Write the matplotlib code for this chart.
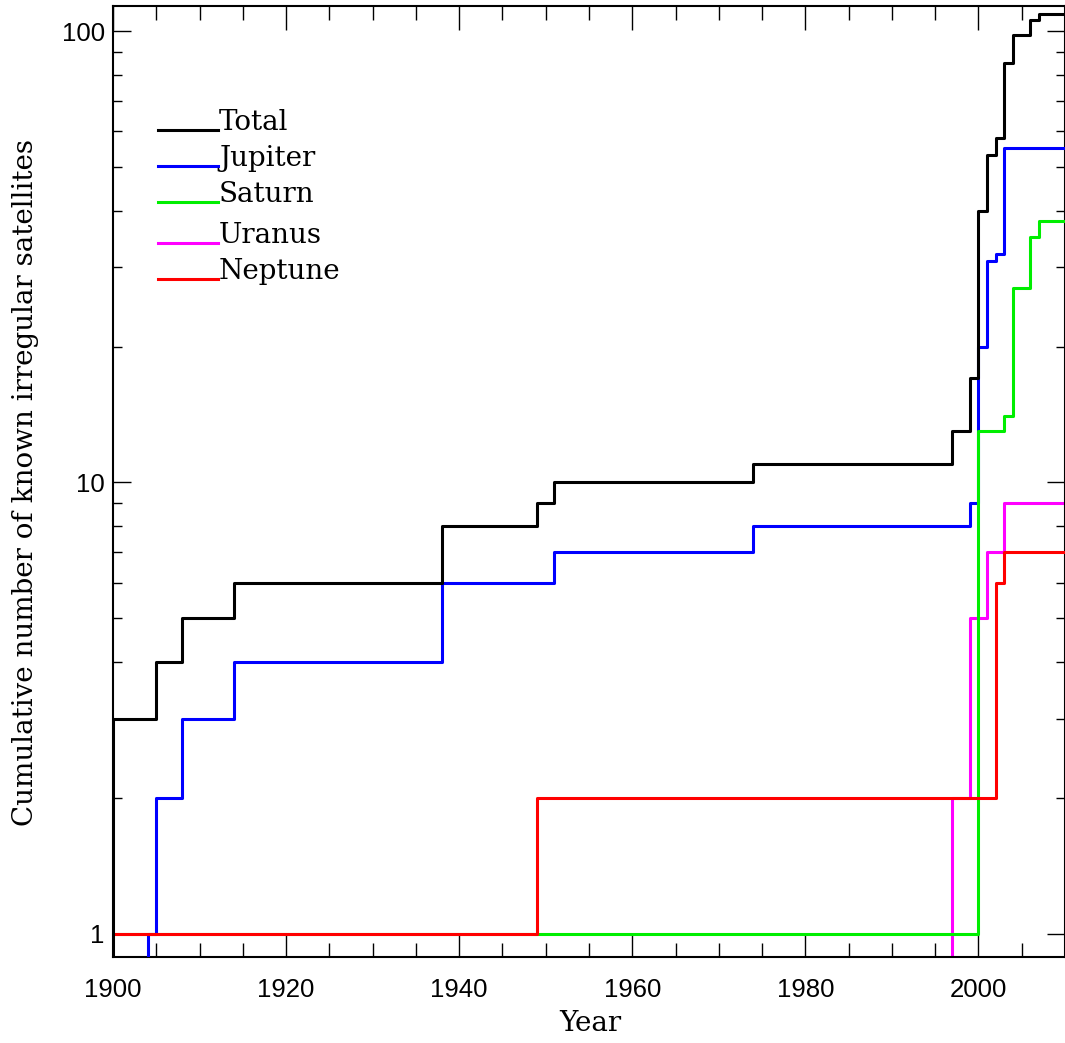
import numpy as np
import matplotlib.pyplot as plt
from matplotlib.ticker import FixedLocator, MultipleLocator, NullFormatter

# discovery years and cumulative counts of irregular satellites
total_years = [1900, 1900, 1905, 1908, 1914, 1938, 1949, 1951, 1974, 1997, 1999,
               2000, 2001, 2002, 2003, 2004, 2006, 2007, 2010]
total_counts = [0, 3, 4, 5, 6, 8, 9, 10, 11, 13, 17, 40, 53, 58, 85, 98, 106, 109, 109]

jupiter_years = [1900, 1904, 1905, 1908, 1914, 1938, 1951, 1974, 1999, 2000, 2001,
                 2002, 2003, 2010]
jupiter_counts = [0, 1, 2, 3, 4, 6, 7, 8, 9, 20, 31, 32, 55, 55]

saturn_years = [1900, 2000, 2003, 2004, 2006, 2007, 2010]
saturn_counts = [1, 13, 14, 27, 35, 38, 38]

uranus_years = [1900, 1997, 1999, 2001, 2003, 2010]
uranus_counts = [0, 2, 5, 7, 9, 9]

neptune_years = [1900, 1949, 2002, 2003, 2010]
neptune_counts = [1, 2, 6, 7, 7]

series = [
    ("Uranus", uranus_years, uranus_counts, "#ff00ff", 2),
    ("Jupiter", jupiter_years, jupiter_counts, "#0000ff", 3),
    ("Saturn", saturn_years, saturn_counts, "#00ee00", 4),
    ("Neptune", neptune_years, neptune_counts, "#ff0000", 5),
    ("Total", total_years, total_counts, "black", 6),
]
legend_order = ["Total", "Jupiter", "Saturn", "Uranus", "Neptune"]

label_font = "DejaVu Serif"
tick_font = "Liberation Sans"

fig = plt.figure(figsize=(10.65, 10.43), dpi=100)
W, H = 1065, 1043
ax = fig.add_axes([113 / W, 1 - 957 / H, 952 / W, 951 / H])
ax.set_yscale("log", nonpositive="clip")

colors = {}
for name, yrs, cnt, col, z in series:
    ax.plot(yrs, cnt, drawstyle="steps-post", color=col, lw=2.2, zorder=z)
    colors[name] = col

ax.set_xlim(1900, 2010)
ax.set_ylim(0.889, 113.6)

ax.xaxis.set_major_locator(MultipleLocator(20))
ax.xaxis.set_minor_locator(MultipleLocator(5))
ax.yaxis.set_major_locator(FixedLocator([1, 10, 100]))
ax.yaxis.set_minor_locator(FixedLocator([m * d for d in (1, 10) for m in range(2, 10)]))
ax.yaxis.set_major_formatter(plt.FuncFormatter(lambda v, p: f"{v:g}"))
ax.yaxis.set_minor_formatter(NullFormatter())

ax.tick_params(axis="x", which="major", direction="in", length=17, width=1,
               top=True, pad=15)
ax.tick_params(axis="x", which="minor", direction="in", length=10, width=1, top=True)
ax.tick_params(axis="y", which="major", direction="in", length=13, width=1,
               right=True, pad=6)
ax.tick_params(axis="y", which="minor", direction="in", length=6.5, width=1, right=True)
for lab in ax.get_xticklabels() + ax.get_yticklabels():
    lab.set_fontfamily(tick_font)
    lab.set_fontsize(18.5)

for sp in ax.spines.values():
    sp.set_linewidth(1.5)

ax.set_xlabel("Year", fontfamily=label_font, fontsize=20)
ax.set_ylabel("Cumulative number of known irregular satellites",
              fontfamily=label_font, fontsize=20)
ax.xaxis.set_label_coords(0.501, -0.056)
ax.yaxis.set_label_coords(-0.078, 0.499)

# hand-built key: a short line with the name written right after it
key_rows = [130, 166, 202, 243, 279]
for name, row in zip(legend_order, key_rows):
    yf = 1 - row / H
    fig.add_artist(plt.Line2D([158 / W, 218 / W], [yf, yf], color=colors[name],
                              lw=2.2, transform=fig.transFigure))
    fig.text(219 / W, yf, name, fontfamily=label_font, fontsize=20,
             ha="left", va="baseline")

fig.savefig("out.png", dpi=100)
